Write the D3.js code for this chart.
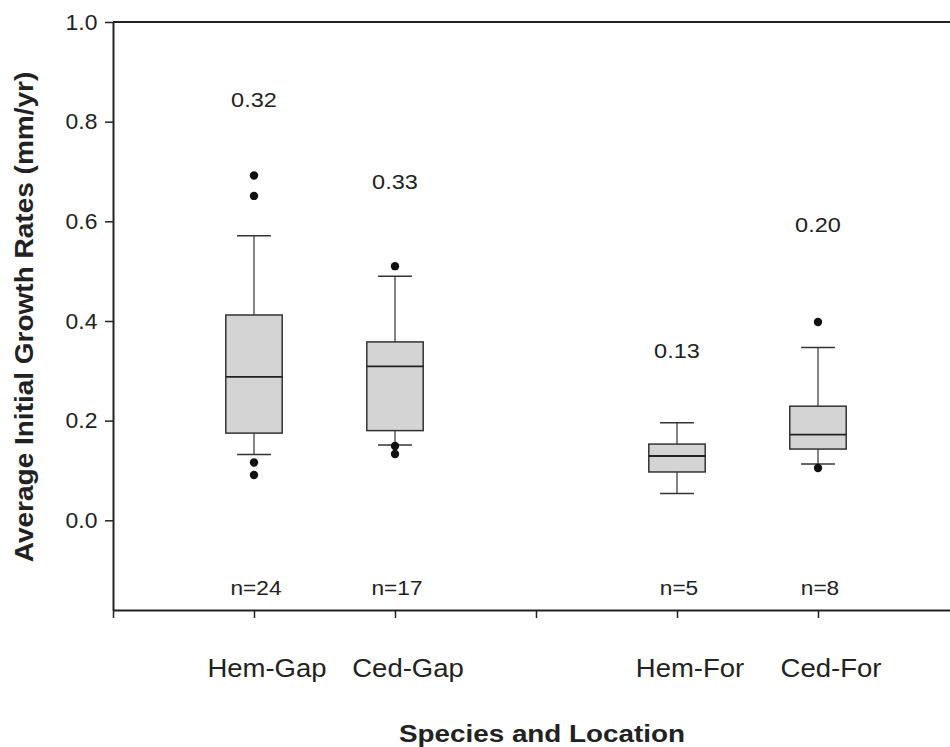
<!DOCTYPE html>
<html>
<head>
<meta charset="utf-8">
<script src="https://cdn.jsdelivr.net/npm/d3@7"></script>
<style>
  body { margin: 0; background: #fff; }
  text { font-family: "Liberation Sans", Arial, sans-serif; fill: #222; }
</style>
</head>
<body>
<script>
// box plot data
const categories = ['Hem-Gap', 'Ced-Gap', 'Hem-For', 'Ced-For']
const slots = [1, 2, 4, 5] // slot 3 left empty between Gap and For
const whiskerLow = [0.132, 0.151, 0.054, 0.113]
const q1 = [0.175, 0.180, 0.097, 0.143]
const median = [0.288, 0.309, 0.129, 0.172]
const q3 = [0.412, 0.358, 0.153, 0.229]
const whiskerHigh = [0.571, 0.490, 0.196, 0.347]
const outliers = [[0.692, 0.651, 0.116, 0.091], [0.510, 0.149, 0.133], [], [0.398, 0.105]]
const means = ['0.32', '0.33', '0.13', '0.20']
const meanLabelAt = [0.83, 0.665, 0.326, 0.579] // height of the mean label, in data units
const counts = [24, 17, 5, 8]
const yTicks = [0.0, 0.2, 0.4, 0.6, 0.8, 1.0]
const xTicks = [0, 1, 2, 3, 4, 5, 6]

const W = 950, H = 747
const x = d3.scaleLinear().domain([0, 6]).range([113, 959])
const y = d3.scaleLinear().domain([-0.18, 1.0]).range([610, 22])
const boxW = 0.4, capW = 0.24

const rows = categories.map((c, i) => ({
  name: c, pos: slots[i], lo: whiskerLow[i], q1: q1[i], med: median[i],
  q3: q3[i], hi: whiskerHigh[i], out: outliers[i], mean: means[i],
  meanAt: meanLabelAt[i], n: counts[i]
}))

const svg = d3.select('body').append('svg')
  .attr('width', W).attr('height', H)

// axes
const yAxis = svg.append('g')
  .attr('transform', `translate(${x(0)},0)`)
  .call(d3.axisLeft(y).tickValues(yTicks).tickFormat(d3.format('.1f'))
    .tickSize(8).tickPadding(7).tickSizeOuter(0))
yAxis.select('.domain').attr('stroke', '#222').attr('stroke-width', 2)
yAxis.selectAll('.tick line').attr('stroke', '#222').attr('stroke-width', 1.5)
yAxis.selectAll('.tick text')
  .attr('font-size', 22).attr('fill', '#222')
  .attr('font-family', '"Liberation Sans", Arial, sans-serif')
  .attr('transform', 'scale(1.04,1)')

const xAxis = svg.append('g')
  .attr('transform', `translate(0,${y(-0.18)})`)
  .call(d3.axisBottom(x).tickValues(xTicks).tickFormat('')
    .tickSize(8).tickSizeOuter(0))
xAxis.select('.domain').attr('stroke', '#222').attr('stroke-width', 2)
xAxis.selectAll('.tick line').attr('stroke', '#222').attr('stroke-width', 1.5)

// top frame line
svg.append('line')
  .attr('x1', x(0)).attr('x2', x(6))
  .attr('y1', y(1.0)).attr('y2', y(1.0))
  .attr('stroke', '#222').attr('stroke-width', 2)

// boxes
const g = svg.selectAll('g.box').data(rows).enter().append('g').attr('class', 'box')

g.append('line') // whisker stem
  .attr('x1', d => x(d.pos)).attr('x2', d => x(d.pos))
  .attr('y1', d => y(d.lo)).attr('y2', d => y(d.hi))
  .attr('stroke', '#333').attr('stroke-width', 1.2)
g.selectAll('line.cap').data(d => [d, d].map((r, k) => ({ pos: r.pos, v: k ? r.hi : r.lo })))
  .enter().append('line').attr('class', 'cap')
  .attr('x1', d => x(d.pos - capW / 2)).attr('x2', d => x(d.pos + capW / 2))
  .attr('y1', d => y(d.v)).attr('y2', d => y(d.v))
  .attr('stroke', '#333').attr('stroke-width', 1.5)
g.append('rect')
  .attr('x', d => x(d.pos - boxW / 2))
  .attr('width', d => x(d.pos + boxW / 2) - x(d.pos - boxW / 2))
  .attr('y', d => y(d.q3))
  .attr('height', d => y(d.q1) - y(d.q3))
  .attr('fill', '#d4d4d4').attr('stroke', '#333').attr('stroke-width', 1.5)
g.append('line') // median
  .attr('x1', d => x(d.pos - boxW / 2)).attr('x2', d => x(d.pos + boxW / 2))
  .attr('y1', d => y(d.med)).attr('y2', d => y(d.med))
  .attr('stroke', '#222').attr('stroke-width', 1.8)
g.selectAll('circle').data(d => d.out.map(v => ({ pos: d.pos, v: v })))
  .enter().append('circle')
  .attr('cx', d => x(d.pos)).attr('cy', d => y(d.v)).attr('r', 4.2)
  .attr('fill', '#111')

// mean labels and counts
g.append('text')
  .attr('transform', d => `translate(${x(d.pos)},${y(d.meanAt)}) scale(1.12,1)`)
  .attr('text-anchor', 'middle').attr('font-size', 21)
  .text(d => d.mean)
g.append('text')
  .attr('transform', d => `translate(${x(d.pos) + 2},${y(-0.15)}) scale(1.08,1)`)
  .attr('text-anchor', 'middle').attr('font-size', 21)
  .text(d => 'n=' + d.n)

// category labels
g.append('text')
  .attr('transform', d => `translate(${x(d.pos) + 13},677) scale(1.1,1)`)
  .attr('text-anchor', 'middle').attr('font-size', 25)
  .text(d => d.name)

// axis titles
svg.append('text')
  .attr('transform', 'translate(542,742) scale(1.16,1)')
  .attr('text-anchor', 'middle').attr('font-size', 24).attr('font-weight', 'bold')
  .text('Species and Location')
svg.append('text')
  .attr('transform', 'translate(33,317) rotate(-90) scale(1.12,1)')
  .attr('text-anchor', 'middle').attr('font-size', 25).attr('font-weight', 'bold')
  .text('Average Initial Growth Rates (mm/yr)')
</script>
</body>
</html>
